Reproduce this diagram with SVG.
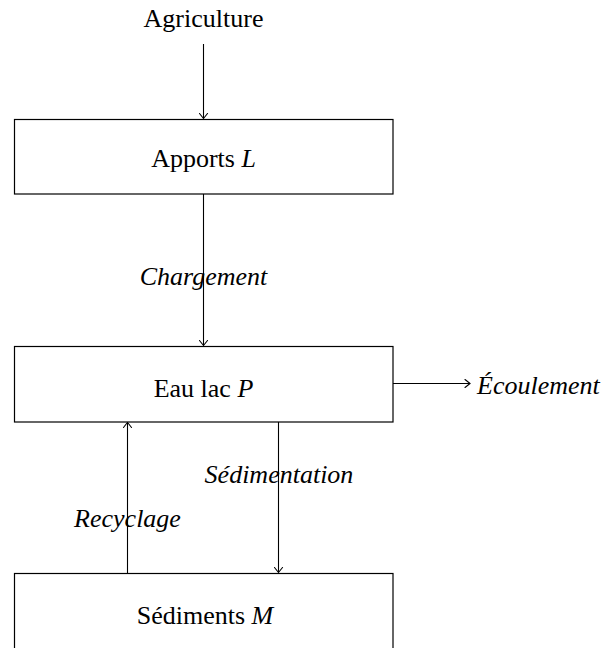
<svg xmlns="http://www.w3.org/2000/svg" width="608" height="648" viewBox="0 0 608 648">
<style>
text{font-family:"Liberation Serif","Times New Roman",serif;font-size:26px;fill:#000}
.it{font-style:italic}
.box{fill:#fff;stroke:#000;stroke-width:1.2}
.edge{fill:none;stroke:#000;stroke-width:1.1}
</style>
<defs>
<marker id="arr" viewBox="-6 -5 7 10" refX="0" refY="0" markerWidth="7" markerHeight="10" markerUnits="userSpaceOnUse" orient="auto">
<path d="M-5,-4 Q-1.2,-1 0,0 Q-1.2,1 -5,4" fill="none" stroke="#000" stroke-width="1.1" stroke-linecap="round"/>
</marker>
</defs>
<rect width="608" height="648" fill="#fff"/>
<g id="connectors">
<line class="edge" x1="203.5" y1="44" x2="203.5" y2="118.5" marker-end="url(#arr)"/>
<line class="edge" x1="203.5" y1="194" x2="203.5" y2="345.5" marker-end="url(#arr)"/>
<line class="edge" x1="127.5" y1="573" x2="127.5" y2="422.5" marker-end="url(#arr)"/>
<line class="edge" x1="278.5" y1="422" x2="278.5" y2="572.5" marker-end="url(#arr)"/>
<line class="edge" x1="393" y1="383.5" x2="470" y2="383.5" marker-end="url(#arr)"/>
<text class="it" x="203.5" y="285" text-anchor="middle">Chargement</text>
<text class="it" x="279" y="483" text-anchor="middle">Sédimentation</text>
<text class="it" x="127.5" y="527" text-anchor="middle">Recyclage</text>
<text class="it" x="477" y="393.5">Écoulement</text>
</g>
<g id="agriculture">
<text x="203.5" y="27" text-anchor="middle">Agriculture</text>
</g>
<g id="apports">
<rect class="box" x="14.5" y="119.5" width="378.5" height="74.5"/>
<text x="203.5" y="166.5" text-anchor="middle">Apports <tspan class="it">L</tspan></text>
</g>
<g id="eau">
<rect class="box" x="14.5" y="346.5" width="378.5" height="75.5"/>
<text x="203.5" y="397" text-anchor="middle">Eau lac <tspan class="it">P</tspan></text>
</g>
<g id="sediments">
<rect class="box" x="14.5" y="573.5" width="378.5" height="76"/>
<text x="205" y="623.5" text-anchor="middle">Sédiments <tspan class="it">M</tspan></text>
</g>
</svg>
